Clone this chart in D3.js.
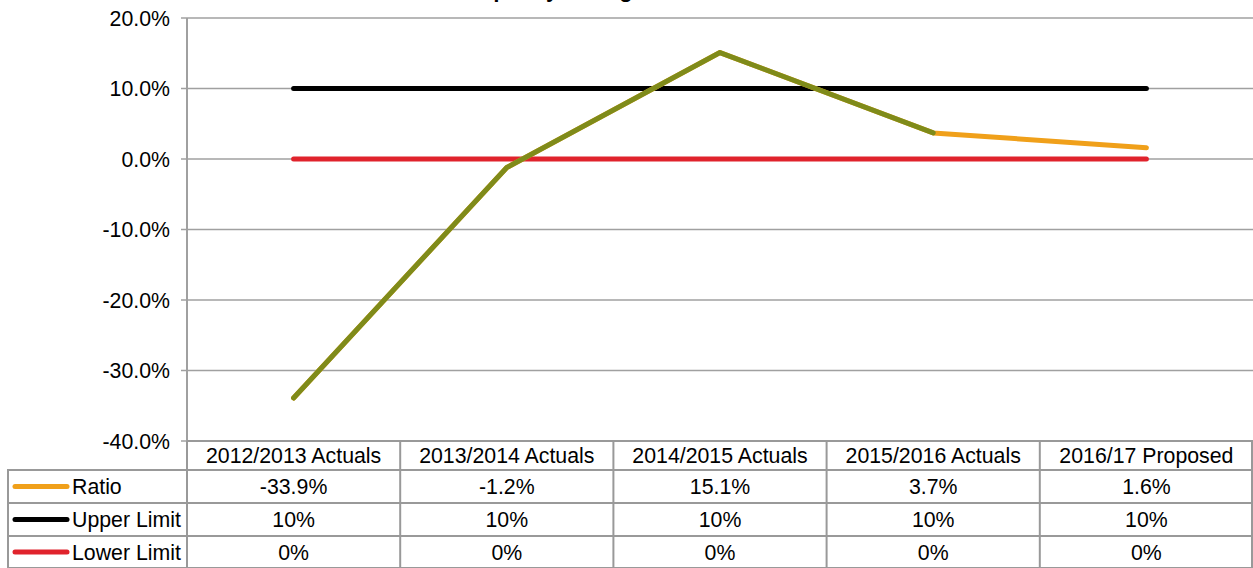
<!DOCTYPE html>
<html><head><meta charset="utf-8">
<script src="https://cdnjs.cloudflare.com/ajax/libs/d3/7.8.5/d3.min.js"></script>
<style>body{margin:0;background:#fff;}svg{display:block;font-family:"Liberation Sans",Arial,sans-serif;}</style>
</head><body><svg id="c" width="1253" height="568"></svg>
<script>
const categories = ["2012/2013 Actuals","2013/2014 Actuals","2014/2015 Actuals","2015/2016 Actuals","2016/17 Proposed"];
const ratio = [-33.9, -1.2, 15.1, 3.7, 1.6];
const upperLimit = [10, 10, 10, 10, 10];
const lowerLimit = [0, 0, 0, 0, 0];
const ratioLabels = ["-33.9%","-1.2%","15.1%","3.7%","1.6%"];
const upperLabels = ["10%","10%","10%","10%","10%"];
const lowerLabels = ["0%","0%","0%","0%","0%"];
const yTicks = [-40,-30,-20,-10,0,10,20];
const seriesNames = ["Ratio","Upper Limit","Lower Limit"];
const title = "Liquidity / Budget Ratio";

const svg = d3.select("#c");
const L = 187, R = 1253, T = 18, B = 441;
const x = d3.scaleBand().domain(categories).range([L, R]);
const y = d3.scaleLinear().domain([-40, 20]).range([B, T]);
const grid = "#a0a0a0";
const FS = 21.3;

svg.append("text").attr("x", 590).attr("y", -3).attr("text-anchor","middle")
  .attr("font-size", 22).attr("font-weight","bold").text(title);

// gridlines
svg.append("g").selectAll("line").data(yTicks).join("line")
  .attr("x1", L - 6).attr("x2", R).attr("y1", d => y(d)).attr("y2", d => y(d))
  .attr("stroke", grid).attr("stroke-width", 1.3);
svg.append("line").attr("x1", L).attr("x2", L).attr("y1", T).attr("y2", B).attr("stroke", grid).attr("stroke-width", 2);

// y labels
svg.append("g").selectAll("text").data(yTicks).join("text")
  .attr("x", 170).attr("y", d => y(d) + 7.5).attr("text-anchor","end")
  .attr("font-size", FS).attr("fill","#000").text(d => d.toFixed(1) + "%");

const cx = d => x(d) + x.bandwidth() / 2;
const line = d3.line().x(d => cx(d.c)).y(d => y(d.v));
const zip = arr => categories.map((c, i) => ({c, v: arr[i]}));

svg.append("path").attr("d", line(zip(upperLimit))).attr("fill","none")
  .attr("stroke","#000").attr("stroke-width", 5).attr("stroke-linecap","round");
svg.append("path").attr("d", line(zip(lowerLimit))).attr("fill","none")
  .attr("stroke","#e0232c").attr("stroke-width", 5).attr("stroke-linecap","round");
const rz = zip(ratio);
svg.append("path").attr("d", line(rz)).attr("fill","none")
  .attr("stroke","#f0a01a").attr("stroke-width", 5).attr("stroke-linecap","round").attr("stroke-linejoin","round");
svg.append("path").attr("d", line(rz.slice(0, 4))).attr("fill","none")
  .attr("stroke","#7f8b1a").attr("stroke-width", 5).attr("stroke-linecap","round").attr("stroke-linejoin","round");

// data table
const rowsY = [441, 470, 503, 536, 568];
const tg = svg.append("g");
const tcol = "#999";
tg.append("line").attr("x1", L).attr("x2", R).attr("y1", rowsY[0]).attr("y2", rowsY[0]).attr("stroke", tcol).attr("stroke-width", 2);
rowsY.slice(1).forEach(yy => tg.append("line").attr("x1", 7).attr("x2", R).attr("y1", yy).attr("y2", yy).attr("stroke", tcol).attr("stroke-width", 2));
categories.forEach(c => tg.append("line").attr("x1", x(c)).attr("x2", x(c)).attr("y1", rowsY[0]).attr("y2", 568).attr("stroke", tcol).attr("stroke-width", 2));
tg.append("line").attr("x1", R - 1).attr("x2", R - 1).attr("y1", rowsY[0]).attr("y2", 568).attr("stroke", tcol).attr("stroke-width", 2);
tg.append("line").attr("x1", 8).attr("x2", 8).attr("y1", rowsY[1]).attr("y2", 568).attr("stroke", tcol).attr("stroke-width", 2);

tg.selectAll("text.h").data(categories).join("text").attr("class","h")
  .attr("x", d => cx(d)).attr("y", (rowsY[0] + rowsY[1]) / 2 + 7.5).attr("text-anchor","middle")
  .attr("font-size", FS).text(d => d);
const rowData = [ratioLabels, upperLabels, lowerLabels];
const colors = ["#f0a01a", "#000", "#e0232c"];
rowData.forEach((arr, r) => {
  const my = (rowsY[r + 1] + rowsY[r + 2]) / 2 + 7.5;
  tg.selectAll("text.r" + r).data(arr).join("text").attr("class","r" + r)
    .attr("x", (d, i) => cx(categories[i])).attr("y", my).attr("text-anchor","middle")
    .attr("font-size", FS).text(d => d);
  tg.append("line").attr("x1", 15).attr("x2", 67).attr("y1", my - 7.5).attr("y2", my - 7.5)
    .attr("stroke", colors[r]).attr("stroke-width", 5).attr("stroke-linecap","round");
  tg.append("text").attr("x", 72).attr("y", my).attr("font-size", FS).text(seriesNames[r]);
});
</script></body></html>
